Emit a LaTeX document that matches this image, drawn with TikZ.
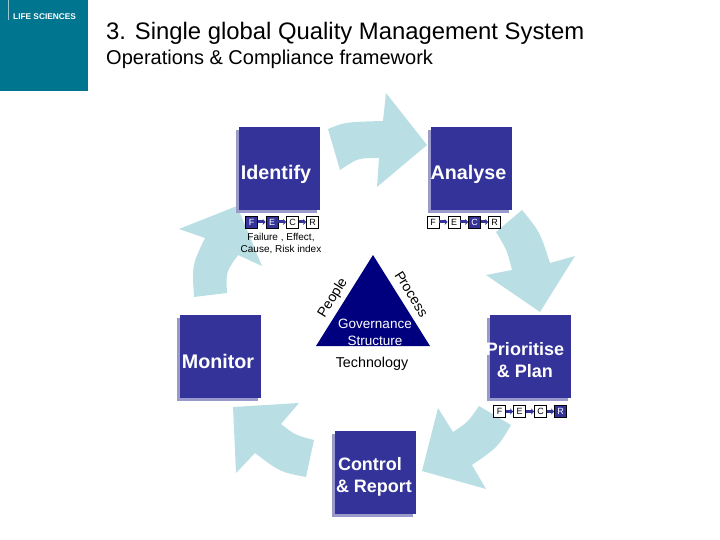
\documentclass[tikz,border=0pt]{standalone}
\usepackage{fontspec}
\setmainfont{Liberation Sans}
\usetikzlibrary{shadows,arrows.meta}
\definecolor{logoteal}{HTML}{00758F}
\definecolor{boxblue}{HTML}{333399}
\definecolor{boxshade}{HTML}{9999CC}
\definecolor{flowblue}{HTML}{B9DFE4}
\definecolor{navy}{HTML}{00007F}
\tikzset{
    stagebox/.style={fill=boxblue,minimum width=81pt,minimum height=83pt,inner sep=0pt,
        drop shadow={shadow xshift=-3pt,shadow yshift=-3pt,fill=boxshade,opacity=1}},
    stagetext/.style={text=white,font=\fontsize{19.7}{22}\selectfont\bfseries,inner sep=0pt,align=center},
    stagesmall/.style={stagetext,font=\fontsize{18}{22}\selectfont\bfseries},
    flowarrow/.style={fill=flowblue},
    flagoff/.style={draw=black,fill=white,line width=0.8pt,minimum size=12pt,inner sep=0pt,font=\fontsize{9}{9}\selectfont},
    flagon/.style={flagoff,fill=boxblue,text=white},
    flaglink/.style={draw=boxblue,line width=3pt,-{Stealth[length=3pt,width=6pt]}}
}
\begin{document}
\begin{tikzpicture}[x=1pt,y=-1pt]
    \useasboundingbox (0,0) rectangle (720,540);

    % logo
    \fill[logoteal] (0,0) rectangle (88,91);
    \draw[white,opacity=.6,line width=0.5pt] (8,0) -- (8,20);
    \node[anchor=west,text=white,inner sep=0pt,font=\fontsize{8.3}{8}\selectfont\bfseries] at (13,16.5) (logo) {LIFE SCIENCES};

    % titles
    \node[anchor=west,inner sep=0pt,font=\fontsize{23.85}{28}\selectfont] at (106,33.5) (title) {3. Single global Quality Management System};
    \node[anchor=west,inner sep=0pt,font=\fontsize{20}{24}\selectfont] at (106,59.5) (subtitle) {Operations \& Compliance framework};

    % curved arrows
    \path[flowarrow] (328,129) .. controls (345,122) .. (383,121) -- (386,93) -- (427,145) -- (377,187) -- (379,158) .. controls (358,158) .. (340,170) -- cycle;
    \path[flowarrow] (522,210) .. controls (540,232) .. (550,263) -- (575,256) -- (540,312) -- (486,275) -- (512,270) .. controls (507,250) .. (496,232) -- cycle;
    \path[flowarrow] (479,406) -- (511,425) .. controls (498,447) .. (472,465) -- (486,489) -- (422,471) -- (438,408) -- (453,432) .. controls (468,422) .. (479,406) -- cycle;
    \path[flowarrow] (314,440) -- (306,477) .. controls (280,472) .. (255,453) -- (236,473) -- (233,407) -- (299,403) -- (281,424) .. controls (295,435) .. (314,440) -- cycle;
    \path[flowarrow] (194,297) -- (227,293) .. controls (226,272) .. (238,255) -- (262,266) -- (237,206) -- (179,229) -- (205,238) .. controls (192,265) .. (194,297) -- cycle;

    % stages
    \node[stagebox] at (279.5,168.5) (identify) {};
    \node[stagebox] at (471.5,168.5) (analyse) {};
    \node[stagebox] at (530.5,356.5) (prioritise) {};
    \node[stagebox] at (220.5,356.5) (monitor) {};
    \node[stagebox] at (375.5,472.5) (control) {};

    \node[stagetext] at (276,174) (identifytext) {Identify};
    \node[stagetext] at (468.5,174) (analysetext) {Analyse};
    \node[stagesmall] at (525,360) (prioritisetext) {Prioritise\\\& Plan};
    \node[stagetext] at (218,361) (monitortext) {Monitor};
    \node[stagesmall,align=left] at (374,476.5) (controltext) {\hspace{2pt}Control\\\& Report};

    % F E C R under identify
    \node[flagon] at (251.5,222) (fa) {F};
    \node[flagon] at (272,222) (ea) {E};
    \node[flagoff] at (292.5,222) (ca) {C};
    \node[flagoff] at (312.5,222) (ra) {R};
    \draw[flaglink] (fa) -- (ea);
    \draw[flaglink] (ea) -- (ca);
    \draw[flaglink] (ca) -- (ra);
    \node[font=\fontsize{10}{12}\selectfont,inner sep=0pt,align=center] at (281,243.5) (fecrnote) {Failure , Effect,\\Cause, Risk index};

    % F E C R under analyse
    \node[flagoff] at (433,222) (fb) {F};
    \node[flagoff] at (454,222) (eb) {E};
    \node[flagon] at (474.5,222) (cb) {C};
    \node[flagoff] at (494.5,222) (rb) {R};
    \draw[flaglink] (fb) -- (eb);
    \draw[flaglink] (eb) -- (cb);
    \draw[flaglink] (cb) -- (rb);

    % F E C R under prioritise
    \node[flagoff] at (499.5,411.5) (fc) {F};
    \node[flagoff] at (519.5,411.5) (ec) {E};
    \node[flagoff] at (540.5,411.5) (cc) {C};
    \node[flagon] at (560.5,411.5) (rc) {R};
    \draw[flaglink] (fc) -- (ec);
    \draw[flaglink] (ec) -- (cc);
    \draw[flaglink] (cc) -- (rc);

    % triangle
    \fill[navy] (373,255) -- (430,346) -- (316,346) -- cycle;
    \node[text=white,inner sep=0pt,align=center,font=\fontsize{13.5}{17}\selectfont] at (375,332.5) (governance) {Governance\\Structure};
    \node[inner sep=0pt,font=\fontsize{14.3}{16}\selectfont] at (372,363.5) (technology) {Technology};
    \node[rotate=58,inner sep=0pt,font=\fontsize{14}{16}\selectfont] at (333,298) (people) {People};
    \node[rotate=-58,inner sep=0pt,font=\fontsize{14}{16}\selectfont] at (411.5,294) (process) {Process};
\end{tikzpicture}
\end{document}
